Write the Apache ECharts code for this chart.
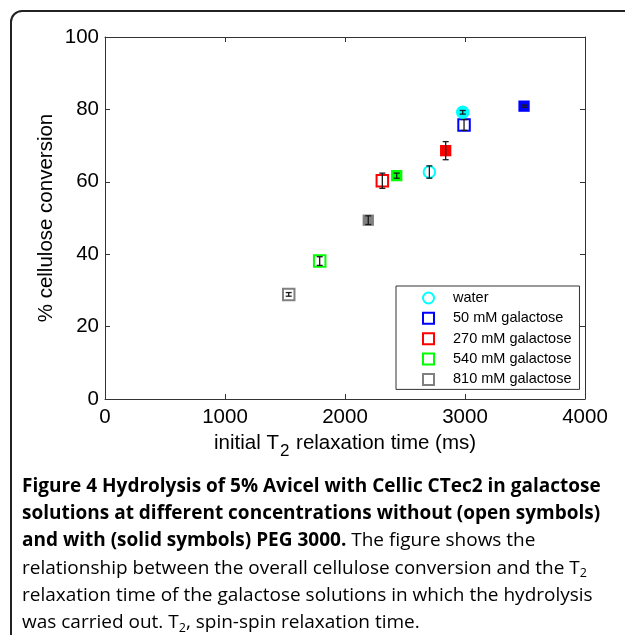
<!DOCTYPE html>
<html><head><meta charset="utf-8">
<script src="https://cdn.jsdelivr.net/npm/echarts@6/dist/echarts.min.js"></script>
<style>html,body{margin:0;padding:0;background:#fff}#c{width:625px;height:635px}</style>
</head><body><div id="c"></div>
<script>
// ---- data ----
const groupNames = ['water', '50 mM galactose', '270 mM galactose', '540 mM galactose', '810 mM galactose'];
const solidNames = ['water + PEG 3000', '50 mM galactose + PEG 3000', '270 mM galactose + PEG 3000', '540 mM galactose + PEG 3000', '810 mM galactose + PEG 3000'];
const groupSymbols = ['circle', 'rect', 'rect', 'rect', 'rect'];
const groupColors = ['#00ffff', '#0000ff', '#ff0000', '#00ff00', '#808080'];
// open symbols: without PEG 3000
const openT2 = [2703, 2992, 2311, 1789, 1531];
const openConv = [62.7, 75.7, 60.3, 38.1, 28.9];
const openErr = [1.7, 1.5, 2.1, 1.2, 0.5];
// solid symbols: with PEG 3000
const solidT2 = [2981, 3492, 2839, 2431, 2194];
const solidConv = [79.2, 80.9, 68.6, 61.7, 49.4];
const solidErr = [0.5, 0.3, 2.5, 0.7, 1.2];
const xTicks = [0, 1000, 2000, 3000, 4000];
const yTicks = [0, 20, 40, 60, 80, 100];

const xTitle = '{n|initial T}{s|2}{n| relaxation time (ms)}';
const yTitle = '% cellulose conversion';
const captionLines = [
  [['b', 'Figure 4 Hydrolysis of 5% Avicel with Cellic CTec2 in galactose']],
  [['b', 'solutions at different concentrations without (open symbols)']],
  [['b', 'and with (solid symbols) PEG 3000.'], ['r', ' The figure shows the']],
  [['r', 'relationship between the overall cellulose conversion and the T'], ['s', '2']],
  [['r', 'relaxation time of the galactose solutions in which the hydrolysis']],
  [['r', 'was carried out. T'], ['s', '2'], ['r', ', spin-spin relaxation time.']]
];

const chart = echarts.init(document.getElementById('c'), null, {renderer: 'canvas'});
const AX = '#333333';
const FONT = 'Liberation Sans, Arial, sans-serif';

const series = [];
groupNames.forEach(function (name, i) {
  series.push({
    name: name, type: 'scatter', xAxisIndex: 0, yAxisIndex: 0,
    symbol: groupSymbols[i], symbolSize: 11.5,
    itemStyle: {color: 'rgba(255,255,255,0)', borderColor: groupColors[i], borderWidth: 2, opacity: 1},
    data: [[openT2[i], openConv[i]]], z: 3, silent: true
  });
});
groupNames.forEach(function (name, i) {
  series.push({
    name: solidNames[i], type: 'scatter', xAxisIndex: 0, yAxisIndex: 0,
    symbol: groupSymbols[i], symbolSize: groupSymbols[i] === 'circle' ? 13.5 : 11.3,
    itemStyle: {color: groupColors[i], opacity: 1},
    data: [[solidT2[i], solidConv[i]]], z: 3, silent: true
  });
});
const errData = [];
groupNames.forEach(function (n, i) {
  errData.push([openT2[i], openConv[i], openErr[i]]);
  errData.push([solidT2[i], solidConv[i], solidErr[i]]);
});
series.push({
  type: 'custom', name: 'err', xAxisIndex: 0, yAxisIndex: 0, z: 5, silent: true,
  encode: {x: 0, y: 1},
  data: errData,
  renderItem: function (params, api) {
    const x = api.value(0), y = api.value(1), e = api.value(2);
    const lo = api.coord([x, y - e]), hi = api.coord([x, y + e]);
    const c = 3;
    const st = {stroke: '#1a1a1a', lineWidth: 1.3};
    return {type: 'group', children: [
      {type: 'line', shape: {x1: lo[0], y1: lo[1], x2: hi[0], y2: hi[1]}, style: st},
      {type: 'line', shape: {x1: lo[0] - c, y1: lo[1], x2: lo[0] + c, y2: lo[1]}, style: st},
      {type: 'line', shape: {x1: hi[0] - c, y1: hi[1], x2: hi[0] + c, y2: hi[1]}, style: st}
    ]};
  }
});

// caption as rich text
const captionText = captionLines.map(function (line) {
  return line.map(function (t) { return '{' + t[0] + '|' + t[1] + '}'; }).join('');
}).join('\n');

const axisCommon = {
  axisLine: {show: true, onZero: false, lineStyle: {color: AX, width: 1}},
  axisTick: {show: true, inside: true, length: 5, lineStyle: {color: AX, width: 1}},
  splitLine: {show: false}
};

chart.setOption({
  animation: false,
  backgroundColor: '#ffffff',
  grid: {left: 105, top: 37, right: 40, bottom: 236, containLabel: false},
  xAxis: [
    Object.assign({type: 'value', position: 'bottom', min: 0, max: 4000, interval: 1000,
      axisLabel: {show: true, fontSize: 20.5, color: '#000', fontFamily: FONT, margin: 8,
        formatter: function (v) { return xTicks.indexOf(v) >= 0 ? String(v) : ''; }},
      name: xTitle, nameLocation: 'middle', nameGap: 32, nameMoveOverlap: false,
      nameTextStyle: {rich: {
        n: {fontSize: 20.5, color: '#000', fontFamily: FONT, lineHeight: 24},
        s: {fontSize: 17, color: '#000', fontFamily: FONT, padding: [16, 1, 0, 1], lineHeight: 20}
      }}
    }, axisCommon),
    Object.assign({type: 'value', position: 'top', min: 0, max: 4000, interval: 1000,
      axisLabel: {show: false}}, axisCommon)
  ],
  yAxis: [
    Object.assign({type: 'value', position: 'left', min: 0, max: 100, interval: 20,
      axisLabel: {show: true, fontSize: 20.5, color: '#000', fontFamily: FONT, margin: 6,
        formatter: function (v) { return yTicks.indexOf(v) >= 0 ? String(v) : ''; }},
      name: yTitle, nameLocation: 'middle', nameGap: 48, nameMoveOverlap: false,
      nameTextStyle: {fontSize: 20.5, color: '#000', fontFamily: FONT}
    }, axisCommon),
    Object.assign({type: 'value', position: 'right', min: 0, max: 100, interval: 20,
      axisLabel: {show: false}}, axisCommon)
  ],
  legend: {
    data: groupNames.map(function (n, i) {
      return {name: n, icon: groupSymbols[i],
        itemStyle: {color: 'rgba(255,255,255,0)', borderColor: groupColors[i], borderWidth: 2}};
    }),
    orient: 'vertical', left: 396, top: 286,
    itemWidth: 11, itemHeight: 11, itemGap: 4.35,
    padding: [4, 8, 2, 26],
    backgroundColor: '#ffffff', borderColor: '#333333', borderWidth: 1, borderRadius: 0,
    textStyle: {fontSize: 14.5, lineHeight: 16, color: '#000', fontFamily: FONT, padding: [0, 0, 0, 14]},
    selectedMode: false
  },
  graphic: [
    {type: 'rect', shape: {x: 11, y: 11, width: 640, height: 660, r: 11},
      style: {fill: 'none', stroke: '#222222', lineWidth: 2}, z: -1, silent: true},
    {type: 'text', left: 22, top: 473, silent: true,
      style: {text: captionText, lineHeight: 27.2,
        rich: {
          b: {fontFamily: 'Open Sans', fontWeight: 'bold', fontSize: 19, color: '#111', lineHeight: 27.2},
          r: {fontFamily: 'Open Sans', fontSize: 19, color: '#333', lineHeight: 27.2},
          s: {fontFamily: 'Open Sans', fontSize: 12.5, color: '#333', padding: [11, 0, 0, 0], lineHeight: 16}
        }}}
  ],
  series: series
});
</script>
</body></html>
